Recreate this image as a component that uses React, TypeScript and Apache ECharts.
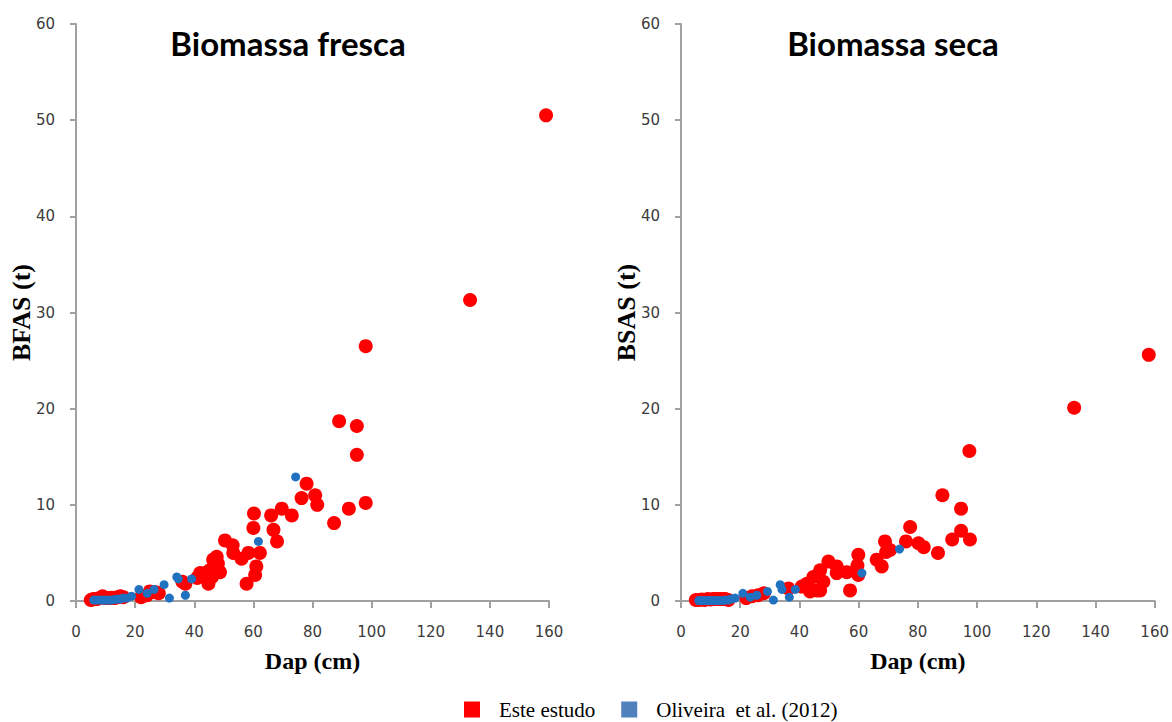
import React, { useEffect, useRef } from "react";
import * as echarts from "echarts";

const xTicks = [0, 20, 40, 60, 80, 100, 120, 140, 160];
const yTicks = [0, 10, 20, 30, 40, 50, 60];

const titles = ["Biomassa fresca", "Biomassa seca"];
const yNames = ["BFAS (t)", "BSAS (t)"];
const xName = "Dap (cm)";
const seriesNames = ["Este estudo", "Oliveira  et al. (2012)"];

// Biomassa fresca — Este estudo [Dap, BFAS]
const frescaEste: number[][] = [
  [5, 0.1], [5.5, 0.15], [6, 0.2], [7, 0.2], [8, 0.3], [9, 0.5], [10, 0.3], [11, 0.3],
  [12, 0.35], [13, 0.3], [14, 0.4], [15, 0.5], [16, 0.4], [22, 0.4], [24, 0.6], [25, 1.0],
  [27, 0.9], [28, 0.8], [36, 2.0], [37, 1.8], [41, 2.4], [42, 2.9], [43.6, 2.9], [44.8, 1.8],
  [45.3, 3.2], [46, 2.5], [46.4, 4.3], [47.6, 4.6], [48, 3.9], [48.7, 3.0], [50.4, 6.3],
  [53, 5.8], [53.2, 5.0], [56, 4.4], [57.7, 1.8], [58.3, 5.0], [60.6, 2.7], [61, 3.6],
  [62.2, 5.0], [60, 7.6], [60.2, 9.1], [66, 8.9], [66.8, 7.4], [68, 6.2], [69.6, 9.6],
  [73, 8.9], [76.3, 10.7], [78, 12.2], [80.9, 11.0], [81.6, 10.0], [87.3, 8.1], [89, 18.7],
  [92.3, 9.6], [95, 18.2], [95, 15.2], [98, 26.5], [98, 10.2], [133.3, 31.3], [159, 50.5],
];

// Biomassa fresca — Oliveira et al. (2012)
const frescaOliveira: number[][] = [
  [6, 0.1], [7, 0.1], [8, 0.1], [9, 0.1], [10, 0.1], [11, 0.1], [12, 0.1], [13, 0.15],
  [14, 0.2], [15, 0.2], [16, 0.3], [17.2, 0.3], [18.8, 0.5], [21.3, 1.2], [24.1, 0.8],
  [26.4, 1.2], [29.8, 1.7], [31.6, 0.3], [34.1, 2.5], [34.6, 2.3], [37, 0.6], [39.1, 2.3],
  [61.7, 6.2], [74.3, 12.9],
];

// Biomassa seca — Este estudo [Dap, BSAS]
const secaEste: number[][] = [
  [5, 0.1], [6, 0.1], [7, 0.15], [8, 0.1], [9, 0.2], [10, 0.15], [11, 0.2], [12, 0.2],
  [13, 0.2], [14, 0.2], [15, 0.2], [16, 0.1], [22, 0.3], [24, 0.5], [26, 0.6], [28, 0.8],
  [36.3, 1.3], [40.8, 1.5], [42.5, 1.8], [43.6, 1.0], [44.7, 2.5], [45.9, 1.1], [47, 3.2],
  [47, 1.1], [48.1, 2.0], [49.8, 4.1], [52.6, 3.6], [52.6, 2.9], [56, 3.0], [57.1, 1.1],
  [59.6, 3.7], [59.9, 4.8], [59.9, 2.7], [66.1, 4.3], [67.8, 3.6], [68.9, 6.2], [69.3, 5.1],
  [70.6, 5.3], [76, 6.2], [77.4, 7.7], [80.2, 6.0], [82, 5.6], [86.8, 5.0], [88.3, 11.0],
  [91.6, 6.4], [94.6, 9.6], [94.6, 7.3], [97.4, 15.6], [97.6, 6.4], [132.8, 20.1], [158, 25.6],
];

// Biomassa seca — Oliveira et al. (2012)
const secaOliveira: number[][] = [
  [6, 0.05], [7, 0.05], [8, 0.05], [9, 0.05], [10, 0.05], [11, 0.05], [12, 0.05], [13, 0.05],
  [14, 0.05], [15, 0.1], [16, 0.1], [17, 0.2], [18.3, 0.3], [20.9, 0.8], [23.4, 0.4],
  [25.6, 0.6], [29.2, 1.0], [31.2, 0.1], [33.5, 1.7], [34.1, 1.2], [36.6, 0.4], [38.6, 1.2],
  [61.1, 2.9], [73.8, 5.4],
];

const RED = "#ff0000";
const BLUE = "#2171c1";
const LEGEND_BLUE = "#4f81bd";
const AXIS = "#a0a0a0";
const LABEL = "#3c3c3c";

export default function App() {
  const ref = useRef<HTMLDivElement>(null);

  useEffect(() => {
    if (!ref.current) return;
    const chart = echarts.init(ref.current, null, { renderer: "svg" });

    const grids = [
      { left: 76, right: 623, top: 24, bottom: 121 },
      { left: 681, right: 17, top: 24, bottom: 121 },
    ];

    const mkX = (i: number) => ({
      type: "value",
      gridIndex: i,
      min: xTicks[0],
      max: xTicks[xTicks.length - 1],
      interval: 20,
      name: xName,
      nameLocation: "middle",
      nameGap: 48,
      nameMoveOverlap: false,
      nameTextStyle: {
        fontFamily: "Liberation Serif",
        fontWeight: "bold",
        fontSize: 24,
        color: "#000",
        verticalAlign: "top",
      },
      axisLine: { show: true, lineStyle: { color: AXIS, width: 2 } },
      axisTick: { show: true, length: 7, lineStyle: { color: AXIS, width: 2 } },
      axisLabel: { margin: 23, fontFamily: "DejaVu Sans", fontSize: 15, color: LABEL },
      splitLine: { show: false },
    });

    const mkY = (i: number) => ({
      type: "value",
      gridIndex: i,
      min: yTicks[0],
      max: yTicks[yTicks.length - 1],
      interval: 10,
      name: yNames[i],
      nameLocation: "middle",
      nameGap: 42,
      nameRotate: 90,
      nameMoveOverlap: false,
      nameTextStyle: {
        fontFamily: "Liberation Serif",
        fontWeight: "bold",
        fontSize: 26,
        color: "#000",
      },
      axisLine: { show: true, onZero: false, lineStyle: { color: AXIS, width: 2 } },
      axisTick: { show: true, length: 6, lineStyle: { color: AXIS, width: 2 } },
      axisLabel: { margin: 21, fontFamily: "DejaVu Sans", fontSize: 15, color: LABEL },
      splitLine: { show: false },
    });

    const redSeries = (data: number[][], i: number) => ({
      type: "scatter",
      name: seriesNames[0],
      xAxisIndex: i,
      yAxisIndex: i,
      data,
      symbol: "circle",
      symbolSize: 14,
      itemStyle: { color: RED, opacity: 1 },
      z: 2,
    });
    const blueSeries = (data: number[][], i: number) => ({
      type: "scatter",
      name: seriesNames[1],
      xAxisIndex: i,
      yAxisIndex: i,
      data,
      symbol: "circle",
      symbolSize: 9,
      itemStyle: { color: BLUE, opacity: 1 },
      z: 3,
    });

    chart.setOption({
      animation: false,
      backgroundColor: "#ffffff",
      title: titles.map((t, i) => ({
        text: t,
        left: i === 0 ? 283 : 888,
        top: 21,
        textAlign: "center",
        textStyle: {
          fontFamily: "Lato",
          fontWeight: "bold",
          fontSize: 33,
          color: "#000",
        },
      })),
      legend: {
        left: 459,
        top: 694,
        itemWidth: 16,
        itemHeight: 16,
        itemGap: 26,
        icon: "rect",
        textStyle: {
          fontFamily: "Liberation Serif",
          fontSize: 21,
          color: "#000",
          padding: [0, 0, 0, 14],
        },
        data: [
          { name: seriesNames[0], itemStyle: { color: RED } },
          { name: seriesNames[1], itemStyle: { color: LEGEND_BLUE } },
        ],
      },
      grid: grids,
      xAxis: [mkX(0), mkX(1)],
      yAxis: [mkY(0), mkY(1)],
      series: [
        redSeries(frescaEste, 0),
        blueSeries(frescaOliveira, 0),
        redSeries(secaEste, 1),
        blueSeries(secaOliveira, 1),
      ],
    });

    return () => chart.dispose();
  }, []);

  return (
    <div
      ref={ref}
      style={{ position: "absolute", left: 0, top: 0, width: 1172, height: 722 }}
    />
  );
}
